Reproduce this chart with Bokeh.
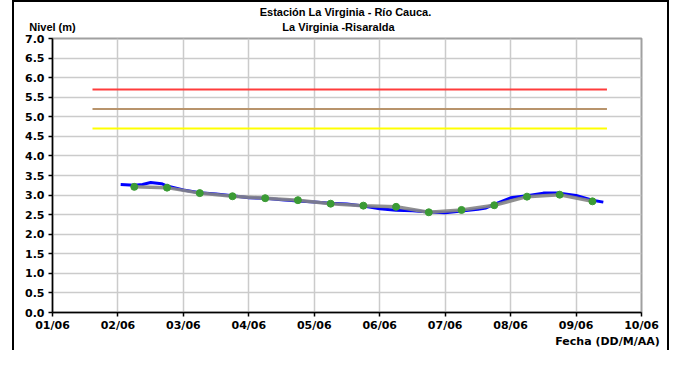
import pandas as pd
from bokeh.plotting import figure
from bokeh.models import FixedTicker, Range1d, LinearAxis
from bokeh.embed import file_html
from bokeh.resources import INLINE

# ---------------- data ----------------
blue_times = ["2013-06-02 01:00", "2013-06-02 06:00", "2013-06-02 09:00", "2013-06-02 12:00",
              "2013-06-02 16:00", "2013-06-02 18:00", "2013-06-03 00:00", "2013-06-03 06:00",
              "2013-06-03 12:00", "2013-06-03 18:00", "2013-06-04 00:00", "2013-06-04 06:00",
              "2013-06-04 12:00", "2013-06-04 18:00", "2013-06-05 00:00", "2013-06-05 06:00",
              "2013-06-05 12:00", "2013-06-05 18:00", "2013-06-06 00:00", "2013-06-06 06:00",
              "2013-06-06 12:00", "2013-06-06 18:00", "2013-06-07 00:00", "2013-06-07 06:00",
              "2013-06-07 12:00", "2013-06-07 15:00", "2013-06-07 18:00", "2013-06-08 00:00",
              "2013-06-08 06:00", "2013-06-08 12:00", "2013-06-08 18:00", "2013-06-09 00:00",
              "2013-06-09 06:00", "2013-06-09 10:00"]
blue_levels = [3.27, 3.25, 3.27, 3.32, 3.29, 3.23, 3.13, 3.06,
               3.03, 2.98, 2.93, 2.92, 2.88, 2.85, 2.82, 2.79,
               2.77, 2.72, 2.65, 2.61, 2.60, 2.57, 2.55, 2.59,
               2.64, 2.67, 2.76, 2.93, 2.98, 3.05, 3.05, 2.99,
               2.87, 2.82]

green_times = ["2013-06-02 06:00", "2013-06-02 18:00", "2013-06-03 06:00", "2013-06-03 18:00",
               "2013-06-04 06:00", "2013-06-04 18:00", "2013-06-05 06:00", "2013-06-05 18:00",
               "2013-06-06 06:00", "2013-06-06 18:00", "2013-06-07 06:00", "2013-06-07 18:00",
               "2013-06-08 06:00", "2013-06-08 18:00", "2013-06-09 06:00"]
green_levels = [3.21, 3.19, 3.05, 2.97, 2.92, 2.87, 2.78, 2.73,
                2.70, 2.56, 2.62, 2.74, 2.96, 3.01, 2.84]

threshold_levels = [5.7, 5.2, 4.7]
threshold_colors = ["#ff3c3c", "#b8946c", "#ffff00"]
threshold_start = "2013-06-01 14:40"
threshold_end = "2013-06-09 11:20"

tick_dates = ["2013-06-01", "2013-06-02", "2013-06-03", "2013-06-04", "2013-06-05",
              "2013-06-06", "2013-06-07", "2013-06-08", "2013-06-09", "2013-06-10"]
tick_labels = ["01/06", "02/06", "03/06", "04/06", "05/06", "06/06", "07/06", "08/06", "09/06", "10/06"]
y_ticks = [0.0, 0.5, 1.0, 1.5, 2.0, 2.5, 3.0, 3.5, 4.0, 4.5, 5.0, 5.5, 6.0, 6.5, 7.0]

title_lines = ["Estación La Virginia  - Río Cauca.", "La Virginia -Risaralda"]
y_title = "Nivel (m)"
x_title = "Fecha (DD/M/AA)"

# ---------------- figure ----------------
W, H = 669, 350
MB_L, MB_R, MB_T, MB_B = 52, 28, 38, 27

def ms(s):
    return pd.Timestamp(s).value / 1e6

x0, x1 = ms(tick_dates[0]), ms(tick_dates[-1])

p = figure(width=W, height=H, output_backend="svg", toolbar_location=None,
           x_axis_type="datetime", x_range=Range1d(x0, x1), y_range=Range1d(0, 7),
           min_border_left=MB_L, min_border_right=MB_R, min_border_top=MB_T,
           min_border_bottom=MB_B)
p.background_fill_color = "white"
p.border_fill_color = None
# outer chart box drawn with inset shadows on the figure element (no layout change)
p.styles = {"background-color": "white",
            "box-shadow": "inset 12px 0 0 0 #ffffff, inset 14px 0 0 0 #000000, "
                          "inset -2px 0 0 0 #000000, inset 0 2px 0 0 #000000"}
p.outline_line_color = "#a0a0a0"
p.outline_line_width = 2

# grids
for g in (p.xgrid, p.ygrid):
    g.grid_line_color = "#cbcbcb"
    g.grid_line_width = 1.5

# axes
tick_ms = [ms(t) for t in tick_dates]
p.xaxis.ticker = FixedTicker(ticks=tick_ms)
p.xaxis.major_label_overrides = {t: l for t, l in zip(tick_ms, tick_labels)}
p.yaxis.ticker = FixedTicker(ticks=y_ticks)
p.yaxis.major_label_overrides = {v: f"{v:.1f}" for v in y_ticks}
for ax in (p.xaxis, p.yaxis):
    ax.axis_line_color = "black"
    ax.axis_line_width = 1.5
    ax.major_tick_line_color = "black"
    ax.major_tick_line_width = 1.5
    ax.major_tick_out = 4
    ax.major_tick_in = 0
    ax.minor_tick_line_color = None
    ax.major_label_text_font = "DejaVu Sans"
    ax.major_label_text_font_style = "bold"
    ax.major_label_text_font_size = "11px"
    ax.major_label_text_color = "black"
    ax.major_label_standoff = 4
p.xaxis.major_label_standoff = 2

# threshold lines
for lvl, col in zip(threshold_levels, threshold_colors):
    p.line([ms(threshold_start), ms(threshold_end)], [lvl, lvl], line_color=col, line_width=2)

# series
bx = [ms(t) for t in blue_times]
gx = [ms(t) for t in green_times]
p.line(bx, blue_levels, line_color="#0000ff", line_width=3)
p.line(gx, green_levels, line_color="#858585", line_width=3.5, line_alpha=0.9)
p.scatter(gx, green_levels, size=7, fill_color="#3b9b35", line_color="#3b9b35")

# ---------------- texts, carried by bare helper axes ----------------
frame_w = W - MB_L - MB_R

def cx(px):
    return x0 + (px - MB_L) / frame_w * (x1 - x0)

def text_axis(ticks, overrides, label, tick_font, standoff):
    a = LinearAxis(ticker=FixedTicker(ticks=ticks), major_label_overrides=overrides,
                   axis_label=label)
    a.axis_line_color = None
    a.major_tick_line_color = None
    a.minor_tick_line_color = None
    a.major_tick_out = 0
    a.major_tick_in = 0
    a.minor_tick_out = 0
    a.minor_tick_in = 0
    a.major_label_standoff = standoff
    a.axis_label_standoff = 0
    a.major_label_text_font = tick_font
    a.major_label_text_font_style = "bold"
    a.major_label_text_font_size = "11px"
    a.major_label_text_color = "black"
    a.axis_label_text_font = "Liberation Sans"
    a.axis_label_text_font_style = "bold"
    a.axis_label_text_font_size = "11px"
    a.axis_label_text_color = "black"
    return a

# above the frame: one row with "Nivel (m)" and the second title line,
# and the first title line above that row
tx = cx(338)
p.add_layout(text_axis([x0, tx], {x0: y_title, tx: title_lines[1]}, title_lines[0],
                       "Liberation Sans", 6), "above")
# below the date axis: x title, right part of the chart
fx = cx(607)
p.add_layout(text_axis([fx], {fx: x_title}, None, "DejaVu Sans", 0), "below")

open("out.html", "w").write(file_html(p, INLINE))
